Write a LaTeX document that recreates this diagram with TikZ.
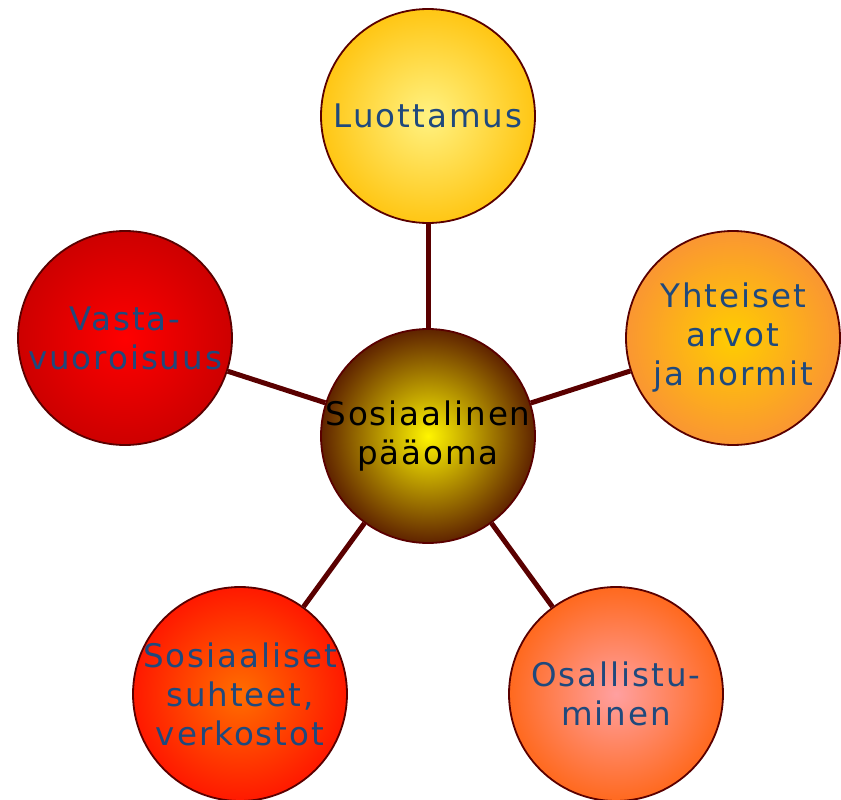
\documentclass[tikz,border=0pt]{standalone}
\usepackage{fontspec}
\newfontfamily\df[LetterSpace=6]{DejaVu Sans}
\definecolor{bordred}{RGB}{90,0,0}
\definecolor{txtblue}{RGB}{31,73,125}
\begin{document}
\begin{tikzpicture}[x=1pt,y=-1pt,
  bubble/.style={circle,draw=bordred,line width=1.8pt,minimum size=214pt,inner sep=0pt},
  btext/.style={align=center,inner sep=0pt,font=\df\fontsize{32.5}{39}\selectfont,text=txtblue},
  link/.style={draw=bordred,line width=5pt}]
\useasboundingbox (0,0) rectangle (841,800);
\node[bubble,inner color={rgb,255:red,255;green,242;blue,130},outer color={rgb,255:red,255;green,198;blue,20}] (t) at (428,116) {};
\node[btext] (tt) at (t) {Luottamus};
\node[bubble,inner color={rgb,255:red,255;green,245;blue,0},outer color={rgb,255:red,95;green,35;blue,0}] (c) at (428,436) {};
\node[btext,text=black] (ct) at (c) {Sosiaalinen\\pääoma};
\node[bubble,inner color={rgb,255:red,255;green,0;blue,0},outer color={rgb,255:red,205;green,0;blue,0}] (l) at (125,338) {};
\node[btext] (lt) at (l) {Vasta-\\vuoroisuus};
\node[bubble,inner color={rgb,255:red,255;green,205;blue,0},outer color={rgb,255:red,250;green,150;blue,50}] (r) at (733,338) {};
\node[btext] (rt) at (r) {Yhteiset\\arvot\\ja normit};
\node[bubble,inner color={rgb,255:red,255;green,110;blue,0},outer color={rgb,255:red,255;green,25;blue,0}] (bl) at (240,694) {};
\node[btext] (blt) at (bl) {Sosiaaliset\\suhteet,\\verkostot};
\node[bubble,inner color={rgb,255:red,255;green,160;blue,160},outer color={rgb,255:red,255;green,105;blue,30}] (br) at (616,694) {};
\node[btext] (brt) at (br) {Osallistu-\\minen};
\draw[link] (c) -- (t);
\draw[link] (c) -- (l);
\draw[link] (c) -- (r);
\draw[link] (c) -- (bl);
\draw[link] (c) -- (br);
\end{tikzpicture}
\end{document}
